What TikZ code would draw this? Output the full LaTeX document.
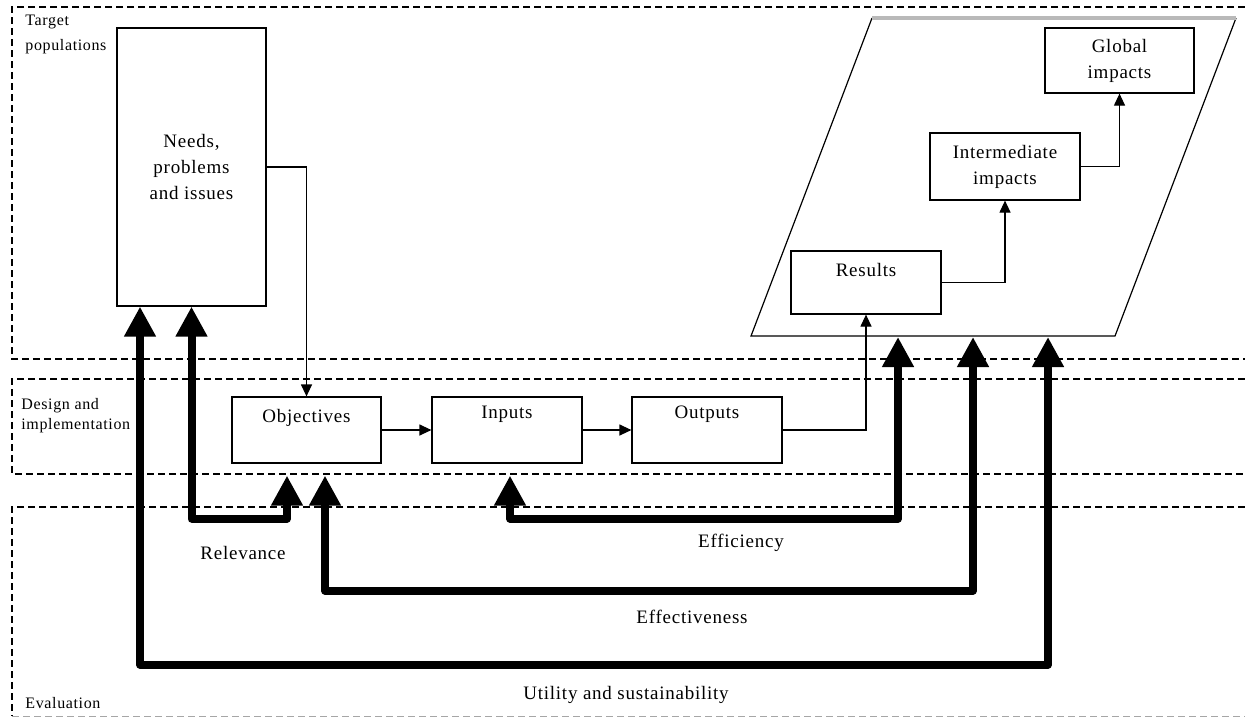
\documentclass[tikz,border=0pt]{standalone}
\usepackage{fontspec}
\setmainfont{Liberation Serif}[LetterSpace=4]
\usetikzlibrary{arrows.meta}
\begin{document}
\begin{tikzpicture}[x=0.5pt,y=-0.5pt,
  frame/.style={dash pattern=on 3.5pt off 2pt, line width=0.6pt},
  box/.style={draw, line width=0.6pt, inner sep=0pt, fill=white},
  txt/.style={font=\fontsize{9.5}{13}\selectfont, align=center, inner sep=0pt},
  small/.style={font=\fontsize{8}{12.5}\selectfont, align=left, inner sep=0pt},
  thinarrow/.style={line width=0.6pt, -{Triangle[length=6pt,width=5.5pt]}},
  big/.style={line width=4pt, line join=round,
    {Triangle[length=15pt,width=15pt]}-{Triangle[length=15pt,width=15pt]}}
]
\useasboundingbox (0,0) rectangle (1245,718);
\fill[white] (0,0) rectangle (1245,718);

% frames
\draw[frame] (1245,7) -- (12,7) -- (12,359) -- (1245,359);
\draw[frame] (1245,379) -- (12,379) -- (12,474) -- (1245,474);
\draw[frame] (1245,507) -- (12,507) -- (12,716);
\draw[dash pattern=on 3.5pt off 2pt, line width=0.4pt, gray!70] (12,716) -- (1245,716);

\node[small, anchor=north west] (tpop) at (25,15) {Target\\populations};
\node[small, anchor=north west, font=\fontsize{8}{10}\selectfont] (dimp) at (21,398) {Design and\\implementation};
\node[small, anchor=base west] (evl) at (25,708) {Evaluation};

% parallelogram
\draw[line width=0.6pt] (1236,18) -- (1115,336) -- (751,336) -- (872,18);
\draw[gray!55, line width=1.6pt] (872,18) -- (1236,18);
\coordinate (pA) at (898,337);
\coordinate (pB) at (973,337);
\coordinate (pC) at (1048,337);

% boxes
\node[box, txt, minimum width=74.5pt, minimum height=139pt] (needs) at (191.5,167) {Needs,\\problems\\and issues};
\node[box, minimum width=74.5pt, minimum height=33pt] (obj) at (306.5,430) {};
\node[box, minimum width=75pt, minimum height=33pt] (inp) at (507,430) {};
\node[box, minimum width=75pt, minimum height=33pt] (out) at (707,430) {};
\node[box, minimum width=75pt, minimum height=31.5pt] (res) at (866,282.5) {};
\node[box, txt, minimum width=75pt, minimum height=33.5pt] (inter) at (1005,166.5) {Intermediate\\impacts};
\node[box, txt, minimum width=74.5pt, minimum height=32.5pt] (glob) at (1119.5,60.5) {Global\\impacts};

\node[txt] (objl) at ([yshift=6pt]obj) {Objectives};
\node[txt] (inpl) at ([yshift=8pt]inp) {Inputs};
\node[txt] (outl) at ([yshift=8pt]out) {Outputs};
\node[txt] (resl) at ([yshift=6.5pt]res) {Results};

% thin connectors
\draw[thinarrow] (needs.east) -| (obj.north);
\draw[thinarrow] (obj.east) -- (inp.west);
\draw[thinarrow] (inp.east) -- (out.west);
\draw[thinarrow] (out.east) -| (res.south);
\draw[thinarrow] (res.east) -| (inter.south);
\draw[thinarrow] (inter.east) -| (glob.south);

% evaluation loops
\draw[big] (needs.south) -- ++(0,212) -| ([xshift=-9.75pt,yshift=-6pt]obj.south);
\draw[big] ([xshift=1.5pt,yshift=-6pt]inp.south) -- ++(0,43) -| (pA);
\draw[big] ([xshift=9.25pt,yshift=-6pt]obj.south) -- ++(0,115) -| (pB);
\draw[big] ([xshift=-25.75pt]needs.south) -- ++(0,358) -| (pC);

\node[txt] (rel) at (243,553) {Relevance};
\node[txt] (effi) at (741,543) {Efficiency};
\node[txt] (effe) at (692,617) {Effectiveness};
\node[txt] (util) at (626,695) {Utility and sustainability};
\end{tikzpicture}
\end{document}
